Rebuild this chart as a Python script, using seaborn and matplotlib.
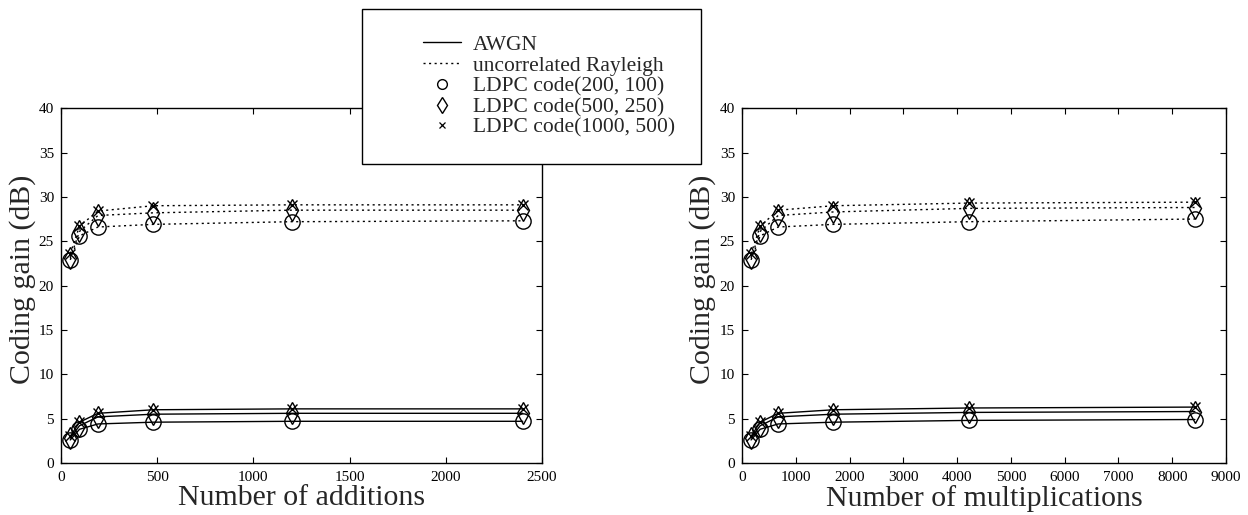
import matplotlib
matplotlib.use("Agg")
import numpy as np
import matplotlib.pyplot as plt
import seaborn as sns
import pandas as pd
from matplotlib.lines import Line2D
from matplotlib.legend_handler import HandlerLine2D

# ---- data ----
codes = ["LDPC code(200, 100)", "LDPC code(500, 250)", "LDPC code(1000, 500)"]
code_markers = ["o", "d", "x"]

additions = [48, 96, 192, 480, 1200, 2400]
multiplications = [168, 336, 672, 1700, 4220, 8420]

add_awgn = {
    "LDPC code(200, 100)": [2.6, 3.8, 4.4, 4.6, 4.7, 4.7],
    "LDPC code(500, 250)": [2.8, 4.2, 5.2, 5.5, 5.6, 5.6],
    "LDPC code(1000, 500)": [3.0, 4.6, 5.6, 6.0, 6.1, 6.1],
}
add_rayleigh = {
    "LDPC code(200, 100)": [22.9, 25.6, 26.6, 26.9, 27.2, 27.3],
    "LDPC code(500, 250)": [23.1, 26.1, 27.9, 28.2, 28.5, 28.5],
    "LDPC code(1000, 500)": [23.6, 26.7, 28.4, 29.0, 29.1, 29.1],
}
mul_awgn = {
    "LDPC code(200, 100)": [2.6, 3.8, 4.4, 4.6, 4.8, 4.9],
    "LDPC code(500, 250)": [2.8, 4.2, 5.2, 5.5, 5.7, 5.8],
    "LDPC code(1000, 500)": [3.0, 4.6, 5.6, 6.0, 6.2, 6.3],
}
mul_rayleigh = {
    "LDPC code(200, 100)": [22.9, 25.6, 26.6, 26.9, 27.2, 27.5],
    "LDPC code(500, 250)": [23.1, 26.1, 27.9, 28.3, 28.7, 28.8],
    "LDPC code(1000, 500)": [23.6, 26.7, 28.5, 29.0, 29.3, 29.4],
}

x_labels = ["Number of additions", "Number of multiplications"]
y_label = "Coding gain (dB)"
x_limits = [(0, 2500), (0, 9000)]
x_ticks = [[0, 500, 1000, 1500, 2000, 2500],
           [0, 1000, 2000, 3000, 4000, 5000, 6000, 7000, 8000, 9000]]
y_ticks = [0, 5, 10, 15, 20, 25, 30, 35, 40]
legend_labels = ["AWGN", "uncorrelated Rayleigh"] + codes

sns.set_style("white")
plt.rcParams["font.family"] = ["Liberation Serif", "DejaVu Serif"]

fig = plt.figure(figsize=(12.48, 5.15), dpi=100)
ax1 = fig.add_axes([0.0489, 0.101, 0.3854, 0.689])
ax2 = fig.add_axes([0.5946, 0.101, 0.3878, 0.689])

panels = [
    (ax1, additions, add_awgn, add_rayleigh),
    (ax2, multiplications, mul_awgn, mul_rayleigh),
]

msize = {"o": 11, "d": 11, "x": 7.5}
dotted = (0, (1.5, 2.5))

for i, (ax, xs, awgn, ray) in enumerate(panels):
    for code, mk in zip(codes, code_markers):
        for series, ls in ((awgn, "-"), (ray, dotted)):
            df = pd.DataFrame({"x": xs, "y": series[code]})
            sns.lineplot(data=df, x="x", y="y", ax=ax, color="black",
                         linewidth=1.0, linestyle=ls, marker=mk,
                         markersize=msize[mk], markerfacecolor="none",
                         markeredgecolor="black", markeredgewidth=1.0,
                         estimator=None, sort=False)
    ax.set_xlim(*x_limits[i])
    ax.set_ylim(0, 40)
    ax.set_xticks(x_ticks[i])
    ax.set_yticks(y_ticks)
    ax.tick_params(direction="in", length=4, width=0.8, labelsize=11,
                   top=True, right=True, bottom=True, left=True,
                   colors="black")
    ax.tick_params(axis="x", pad=6)
    ax.tick_params(axis="y", pad=5)
    for sp in ax.spines.values():
        sp.set_visible(True)
        sp.set_color("black")
        sp.set_linewidth(1.0)
    ax.set_xlabel(x_labels[i], fontsize=21.5)
    ax.set_ylabel(y_label, fontsize=21.5)
    ax.xaxis.set_label_coords(0.5, -0.099)
    ax.xaxis.label.set_va("center")
    ax.yaxis.set_label_coords(-0.081, 0.518)
    ax.yaxis.label.set_va("center")
    ax.grid(False)


class MarkerLeft(HandlerLine2D):
    def get_xdata(self, legend, xdescent, ydescent, width, height, fontsize):
        xdata = np.array([-xdescent + 0.48 * width, -xdescent + width])
        xm = np.array([-xdescent + 0.16 * width])
        return xdata, xm


handles = [
    Line2D([], [], color="black", linestyle="-", linewidth=1.0),
    Line2D([], [], color="black", linestyle=dotted, linewidth=1.0),
    Line2D([], [], color="black", linestyle="none", marker="o", markersize=7,
           markerfacecolor="none", markeredgewidth=1.0),
    Line2D([], [], color="black", linestyle="none", marker="d", markersize=8,
           markerfacecolor="none", markeredgewidth=1.0),
    Line2D([], [], color="black", linestyle="none", marker="x", markersize=4.5,
           markeredgewidth=0.9),
]
leg = fig.legend(handles, legend_labels, loc="upper left",
                 bbox_to_anchor=(0.290, 0.9825), fontsize=15.5,
                 frameon=True, fancybox=False, edgecolor="black",
                 framealpha=1, handlelength=3.4, handletextpad=0.56,
                 labelspacing=0.03, borderpad=1.2, borderaxespad=0,
                 handler_map={Line2D: MarkerLeft()})
leg.get_frame().set_linewidth(1.0)

fig.savefig("out.png", dpi=100)
